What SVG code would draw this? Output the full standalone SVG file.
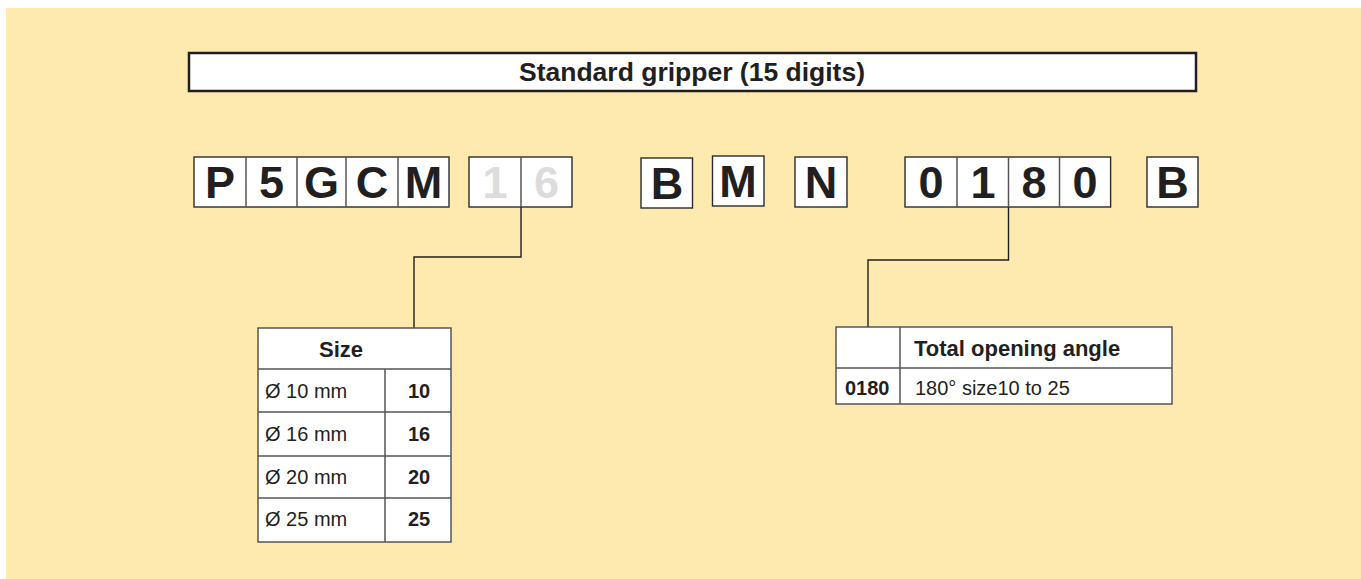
<svg xmlns="http://www.w3.org/2000/svg" width="1361" height="579" viewBox="0 0 1361 579">
<style>
text{font-family:"Liberation Sans",Arial,sans-serif;fill:#231f20}
.bx{fill:#fff;stroke:#2b2b2b;stroke-width:1.4}
.code{font-size:45px;font-weight:bold;text-anchor:middle}
.dim{fill:#dcdcdc}
.tb{fill:#fff;stroke:#555;stroke-width:1.5}
.ln{stroke:#555;stroke-width:1.5;fill:none}
.con{stroke:#231f20;stroke-width:1.4;fill:none}
.h{font-size:22px;font-weight:bold}
.r{font-size:20px}
.b{font-size:20px;font-weight:bold}
</style>
<rect x="6" y="8" width="1355" height="571" fill="#fee9ae"/>
<g id="title">
<rect x="189" y="53" width="1007" height="38" fill="#fff" stroke="#231f20" stroke-width="2.5"/>
<text x="692" y="81" font-size="26.5" font-weight="bold" text-anchor="middle">Standard gripper (15 digits)</text>
</g>
<g id="code-prefix">
<rect class="bx" x="194" y="157" width="255" height="50"/>
<path class="ln" d="M246 157V207M297 157V207M346 157V207M398 157V207" stroke="#2b2b2b"/>
<text class="code" x="220" y="198">P</text>
<text class="code" x="271.5" y="198">5</text>
<text class="code" x="321.5" y="198">G</text>
<text class="code" x="372" y="198">C</text>
<text class="code" x="423.5" y="198">M</text>
</g>
<g id="code-size">
<rect class="bx" x="469" y="157" width="103" height="50"/>
<path class="ln" d="M521 157V207" stroke="#2b2b2b"/>
<text class="code dim" x="495" y="198">1</text>
<text class="code dim" x="546.5" y="198">6</text>
</g>
<g id="code-b1">
<rect class="bx" x="641" y="158" width="51.5" height="50"/>
<text class="code" x="667" y="199">B</text>
</g>
<g id="code-m">
<rect class="bx" x="712.5" y="156" width="51.5" height="50"/>
<text class="code" x="738" y="197">M</text>
</g>
<g id="code-n">
<rect class="bx" x="795" y="157" width="52" height="50"/>
<text class="code" x="821" y="198">N</text>
</g>
<g id="code-angle">
<rect class="bx" x="905" y="157" width="205.6" height="50"/>
<path class="ln" d="M957 157V207M1008.5 157V207M1059.5 157V207" stroke="#2b2b2b"/>
<text class="code" x="931" y="198">0</text>
<text class="code" x="983" y="198">1</text>
<text class="code" x="1034" y="198">8</text>
<text class="code" x="1085" y="198">0</text>
</g>
<g id="code-b2">
<rect class="bx" x="1147" y="157" width="51" height="50"/>
<text class="code" x="1172.5" y="198">B</text>
</g>
<g id="connectors">
<path class="con" d="M521 207V257H414V328"/>
<path class="con" d="M1008.5 207V260H868V327"/>
</g>
<g id="size-table">
<rect class="tb" x="258" y="328" width="193" height="214"/>
<path class="ln" d="M258 369H451M258 412H451M258 456H451M258 498H451M385 369V542"/>
<text class="h" x="341" y="357" text-anchor="middle">Size</text>
<text class="r" x="265" y="398">Ø 10 mm</text>
<text class="r" x="265" y="441">Ø 16 mm</text>
<text class="r" x="265" y="484">Ø 20 mm</text>
<text class="r" x="265" y="526">Ø 25 mm</text>
<text class="b" x="419" y="398" text-anchor="middle">10</text>
<text class="b" x="419" y="441" text-anchor="middle">16</text>
<text class="b" x="419" y="484" text-anchor="middle">20</text>
<text class="b" x="419" y="526" text-anchor="middle">25</text>
</g>
<g id="angle-table">
<rect class="tb" x="836" y="327" width="336" height="77"/>
<path class="ln" d="M836 368H1172M900 327V404"/>
<text class="h" x="914" y="356">Total opening angle</text>
<text class="b" x="845" y="395">0180</text>
<text class="r" x="915" y="395">180° size10 to 25</text>
</g>
</svg>
